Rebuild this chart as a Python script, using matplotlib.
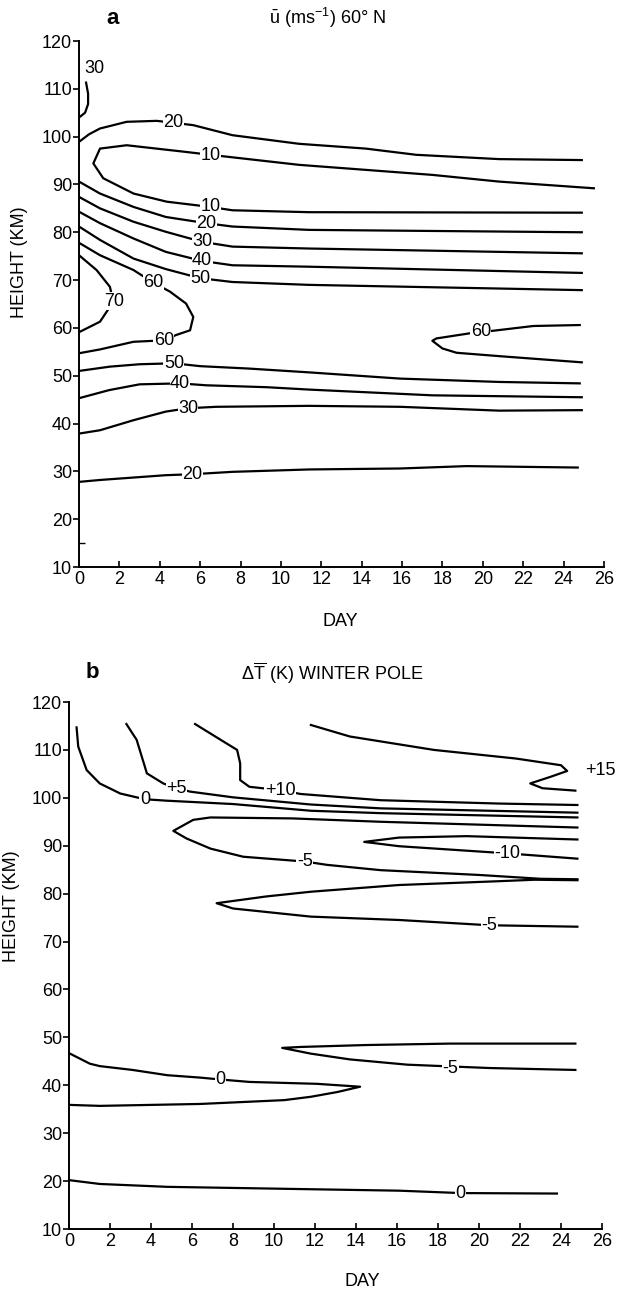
import matplotlib
matplotlib.use('Agg')
import matplotlib.pyplot as plt

plt.rcParams['font.family'] = ['Liberation Sans', 'DejaVu Sans']
plt.rcParams['mathtext.fontset'] = 'custom'
plt.rcParams['mathtext.rm'] = 'Liberation Sans'
plt.rcParams['mathtext.it'] = 'Liberation Sans:italic'

# ---- panel a: zonal wind u (m/s) at 60N, contours as (day, height km) ----
u30_top_day = [0.0, 0.3, 0.45, 0.45, 0.35]
u30_top_km = [104.0, 105.0, 106.8, 109.0, 111.3]
u20_top_day = [0, 0.5, 1.04, 2.36, 3.85, 4.67, 5.66, 7.6, 10.9, 14.2, 16.7, 20.8, 24.9]
u20_top_km = [98.9, 100.5, 101.7, 103.1, 103.3, 102.9, 102.4, 100.3, 98.5, 97.5, 96.2, 95.3, 95.1]
u10_day = [25.5, 20.8, 17.5, 10.9, 6.5, 5.3, 2.36, 1.04, 0.71, 1.2, 2.7, 4.34, 6.5, 7.6, 11.4, 24.9]
u10_km = [89.2, 90.6, 92.0, 94.1, 96.2, 96.8, 98.2, 97.5, 94.4, 91.3, 88.1, 86.4, 85.3, 84.6, 84.2, 84.1]
u20_day = [0, 1.04, 2.7, 4.3, 6.3, 7.6, 11.4, 24.9]
u20_km = [90.6, 88.1, 85.3, 83.2, 81.9, 81.2, 80.5, 80.0]
u30_day = [0, 1.04, 2.7, 4.3, 6.1, 7.6, 11.4, 24.9]
u30_km = [87.4, 85.0, 82.2, 80.1, 78.0, 77.0, 76.6, 75.6]
u40_day = [0, 1.04, 2.7, 4.3, 6.1, 7.6, 11.4, 24.9]
u40_km = [84.3, 81.9, 78.7, 75.9, 74.0, 73.1, 72.8, 71.5]
u50_day = [0, 1.04, 2.7, 4.3, 6.0, 7.6, 11.4, 24.9]
u50_km = [81.2, 78.4, 74.5, 72.3, 70.4, 69.6, 69.0, 67.9]
u60_day = [0, 1.04, 2.7, 3.7, 4.5, 5.3, 5.66, 5.5, 4.8, 4.2, 2.7, 1.04, 0]
u60_km = [77.8, 75.2, 72.1, 69.4, 67.6, 65.1, 62.3, 59.5, 58.5, 57.4, 57.1, 55.5, 54.7]
u70_day = [0, 0.87, 1.53, 1.7, 1.53, 1.04, 0]
u70_km = [75.2, 72.1, 68.6, 65.5, 64.4, 61.3, 59.1]
u60_right_day = [24.8, 22.5, 20.5, 19.4, 17.7, 17.5, 18.0, 18.7, 20.8, 24.9]
u60_right_km = [60.6, 60.4, 59.4, 58.9, 57.8, 57.3, 55.7, 54.8, 54.1, 52.8]
u50_low_day = [0, 1.53, 3.0, 4.7, 6.0, 8.4, 11.4, 15.9, 20.8, 24.8]
u50_low_km = [51.0, 51.9, 52.4, 52.6, 52.0, 51.5, 50.7, 49.4, 48.7, 48.4]
u40_low_day = [0, 1.5, 3.0, 5.0, 6.3, 9.3, 11.4, 17.5, 24.9]
u40_low_km = [45.3, 47.0, 48.2, 48.4, 48.0, 47.6, 47.1, 45.9, 45.5]
u30_low_day = [0, 1.04, 2.7, 4.3, 5.4, 6.8, 11.4, 15.9, 20.8, 24.9]
u30_low_km = [37.9, 38.6, 40.7, 42.5, 43.2, 43.5, 43.7, 43.5, 42.7, 42.8]
u20_low_day = [0, 1.04, 4.3, 5.6, 7.6, 11.4, 15.9, 19.2, 24.7]
u20_low_km = [27.8, 28.2, 29.2, 29.4, 29.9, 30.4, 30.6, 31.1, 30.8]

u_labels = ['30', '20', '10', '10', '20', '30', '40', '50', '60', '70', '60', '60', '50', '40', '30', '20']
u_label_day = [0.75, 4.67, 6.5, 6.5, 6.3, 6.1, 6.1, 6.0, 3.7, 1.75, 4.2, 19.9, 4.7, 5.0, 5.4, 5.6]
u_label_km = [114.3, 102.9, 96.1, 85.3, 81.9, 78.0, 74.0, 70.4, 69.4, 65.6, 57.4, 59.2, 52.6, 48.4, 43.2, 29.4]

# ---- panel b: temperature change (K) at the winter pole ----
t15_day = [11.8, 13.7, 17.8, 21.8, 24.0, 24.3, 23.5, 22.5, 23.1, 24.7]
t15_km = [115.2, 112.8, 110.0, 108.2, 106.8, 105.6, 104.4, 103.0, 102.0, 101.5]
t10_day = [6.15, 7.4, 8.2, 8.35, 8.35, 8.8, 10.3, 11.3, 15.2, 21.0, 24.8]
t10_km = [115.4, 112.1, 110.0, 107.2, 103.7, 102.3, 101.6, 100.8, 99.5, 98.8, 98.5]
t5_day = [2.8, 3.3, 3.6, 3.8, 4.6, 5.25, 5.9, 8.0, 11.8, 15.2, 24.8]
t5_km = [115.4, 112.1, 107.9, 105.1, 103.0, 102.0, 101.3, 100.1, 98.6, 97.8, 96.9]
t0_top_day = [0.37, 0.45, 0.86, 1.5, 2.5, 3.7, 4.77, 8.0, 11.8, 15.2, 24.8]
t0_top_km = [114.7, 110.7, 105.8, 103.0, 100.9, 99.7, 99.4, 98.7, 97.3, 96.8, 95.9]
tm5_top_day = [24.8, 15.2, 10.9, 6.9, 6.06, 5.09, 5.74, 6.9, 8.5, 11.5, 12.6, 15.2, 20.0, 23.0, 24.8]
tm5_top_km = [93.8, 95.0, 95.7, 95.9, 95.4, 93.1, 91.5, 89.4, 87.7, 86.7, 86.0, 84.9, 83.9, 83.1, 83.0]
tm10_day = [24.8, 19.4, 16.1, 14.4, 16.1, 21.4, 24.8]
tm10_km = [91.3, 92.0, 91.7, 90.8, 89.9, 88.4, 87.3]
tm5_mid_day = [24.8, 22.7, 21.0, 16.1, 11.8, 9.6, 7.2, 8.0, 11.8, 16.1, 20.5, 24.8]
tm5_mid_km = [82.8, 82.9, 82.6, 81.8, 80.4, 79.4, 78.0, 76.9, 75.2, 74.5, 73.4, 73.1]
t0_mid_day = [0.05, 1.02, 1.5, 3.1, 4.8, 6.4, 7.4, 8.8, 12.1, 14.2, 13.1, 11.8, 10.5, 6.4, 1.5, 0.05]
t0_mid_km = [46.6, 44.5, 44.0, 43.2, 42.1, 41.6, 41.2, 40.7, 40.3, 39.7, 38.6, 37.6, 36.9, 36.1, 35.7, 35.9]
tm5_low_day = [24.7, 18.6, 14.5, 11.3, 10.4, 11.8, 13.7, 16.5, 20.5, 24.7]
tm5_low_km = [48.7, 48.7, 48.4, 48.0, 47.8, 46.6, 45.4, 44.3, 43.6, 43.2]
t0_low_day = [0, 1.5, 4.8, 11.8, 16.1, 19.1, 23.8]
t0_low_km = [20.2, 19.4, 18.8, 18.3, 18.0, 17.5, 17.4]

t_labels = ['+5', '+10', '0', '-5', '-10', '-5', '0', '-5', '0']
t_label_day = [5.25, 10.3, 3.7, 11.5, 21.4, 20.5, 7.4, 18.6, 19.1]
t_label_km = [102.0, 101.6, 99.7, 86.7, 88.4, 73.4, 41.2, 43.6, 17.4]

days = list(range(0, 27, 2))
heights = list(range(10, 121, 10))

W, H = 617, 1291
fig = plt.figure(figsize=(W / 100, H / 100), dpi=100)


def px(x, y):
    return x / W, 1 - y / H


def setup(ax):
    ax.set_xlim(0, 26)
    ax.set_ylim(10, 120)
    ax.spines['top'].set_visible(False)
    ax.spines['right'].set_visible(False)
    ax.spines['left'].set_linewidth(1.4)
    ax.spines['bottom'].set_linewidth(1.4)
    ax.set_xticks(days)
    ax.set_yticks(heights)
    ax.tick_params(axis='x', direction='in', length=4, width=1.2, labelsize=13, pad=3)
    ax.tick_params(axis='y', direction='out', length=4, width=1.2, labelsize=13, pad=1)
    ax.patch.set_alpha(0)


def draw(ax, lines, labels, ldays, lkms):
    for d, k in lines:
        ax.plot(d, k, color='black', lw=1.6, solid_joinstyle='round')
    for s, d, k in zip(labels, ldays, lkms):
        ax.text(d, k, s, ha='center', va='center', fontsize=13,
                bbox=dict(facecolor='white', edgecolor='none', pad=0.2))


# panel a
axa = fig.add_axes([79 / W, 1 - 567 / H, 525 / W, 526 / H])
setup(axa)
axa.set_yticks([15], minor=True)
axa.tick_params(axis='y', which='minor', direction='in', length=4, width=1.0)
draw(axa, [(u30_top_day, u30_top_km), (u20_top_day, u20_top_km), (u10_day, u10_km),
           (u20_day, u20_km), (u30_day, u30_km), (u40_day, u40_km), (u50_day, u50_km),
           (u60_day, u60_km), (u70_day, u70_km), (u60_right_day, u60_right_km),
           (u50_low_day, u50_low_km), (u40_low_day, u40_low_km), (u30_low_day, u30_low_km),
           (u20_low_day, u20_low_km)],
     u_labels, u_label_day, u_label_km)

# panel b
axb = fig.add_axes([69 / W, 1 - 1229 / H, 533 / W, 527 / H])
setup(axb)
draw(axb, [(t15_day, t15_km), (t10_day, t10_km), (t5_day, t5_km), (t0_top_day, t0_top_km),
           (tm5_top_day, tm5_top_km), (tm10_day, tm10_km), (tm5_mid_day, tm5_mid_km),
           (t0_mid_day, t0_mid_km), (tm5_low_day, tm5_low_km), (t0_low_day, t0_low_km)],
     t_labels, t_label_day, t_label_km)
axb.text(25.2, 105.8, '+15', ha='left', va='center', fontsize=13)

# titles and labels
fig.text(*px(113, 18), 'a', fontsize=16, fontweight='bold', ha='center', va='center')
fig.text(*px(327, 18), r'$\bar{\mathrm{u}}$ (ms$^{-1}$) 60° N', fontsize=13, ha='center', va='center')
fig.text(*px(92, 672), 'b', fontsize=16, fontweight='bold', ha='center', va='center')
fig.text(*px(332, 673), r'$\Delta\overline{\mathrm{T}}$ (K) WINTER POLE', fontsize=13, ha='center', va='center')

fig.text(*px(20, 262), 'HEIGHT (KM)', rotation=90, fontsize=13, ha='center', va='center')
fig.text(*px(12, 906), 'HEIGHT (KM)', rotation=90, fontsize=13, ha='center', va='center')
fig.text(*px(340, 622), 'DAY', fontsize=13, ha='center', va='center')
fig.text(*px(362, 1282), 'DAY', fontsize=13, ha='center', va='center')

fig.savefig('out.png', dpi=100, facecolor='white')
